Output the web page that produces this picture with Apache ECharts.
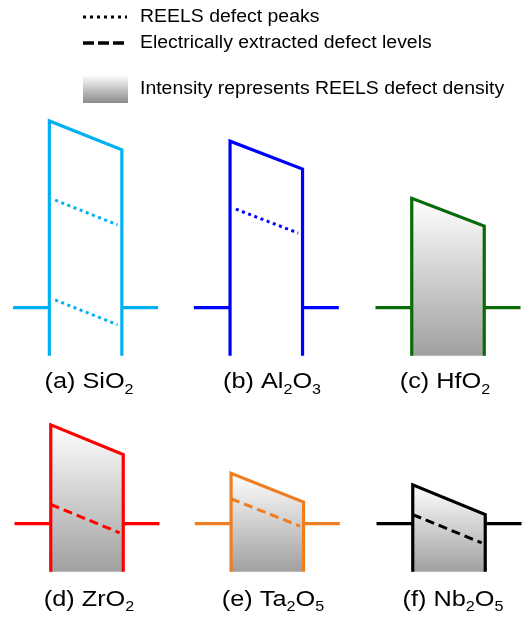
<!DOCTYPE html>
<html>
<head>
<meta charset="utf-8">
<script src="https://cdn.jsdelivr.net/npm/echarts@6/dist/echarts.min.js"></script>
<style>html,body{margin:0;padding:0;background:#fff}#c{width:524px;height:617px}</style>
</head>
<body>
<div id="c"></div>
<script>
// ---- data (energies in eV relative to the electrode Fermi level) ----
const oxides = ['SiO2', 'Al2O3', 'HfO2', 'ZrO2', 'Ta2O5', 'Nb2O5'];
const panelLabels = ['(a) SiO{s|2}', '(b) Al{s|2}O{s|3}', '(c) HfO{s|2}', '(d) ZrO{s|2}', '(e) Ta{s|2}O{s|5}', '(f) Nb{s|2}O{s|5}'];
const cbLeft = [3.89, 3.47, 2.28, 2.06, 1.05, 0.81];   // conduction band edge at left interface
const cbRight = [3.29, 2.89, 1.70, 1.44, 0.45, 0.19];  // conduction band edge at right interface
const reelsPeakDepth = [[1.60, 3.68], [1.37], [], [], [], []];   // below CB
const electricalDepth = [[], [], [], [1.66], [0.53], [0.62]];    // below CB
const densityShown = [false, false, true, true, true, true];
const legendLabels = ['REELS defect peaks', 'Electrically extracted defect levels', 'Intensity represents REELS defect density'];

// ---- styles / layout ----
const colors = ['#00B0F0', '#0000FF', '#086B08', '#FF0000', '#EF7D22', '#000000'];
const gridLeft = [13.1, 193.8, 375.5, 14.5, 194.8, 376.5];
const labelX = [89, 272, 445, 89, 273, 453];
const labelY = [382, 382, 382, 599.5, 599.5, 599.5];
const FONT = 'Liberation Sans, Arial, sans-serif';

const grids = [], xAxes = [], yAxes = [], series = [];
const gradFill = {type: 'linear', x: 0, y: 0, x2: 0, y2: 1,
  colorStops: [{offset: 0, color: '#ffffff'}, {offset: 1, color: '#a0a0a0'}]};

oxides.forEach((name, i) => {
  const row1 = i < 3;
  grids.push({left: gridLeft[i], top: row1 ? 115.7 : 379.7, width: 145, height: row1 ? 240 : 192, outerBoundsMode: 'none'});
  xAxes.push({type: 'value', gridIndex: i, min: -0.5, max: 1.5, show: false});
  yAxes.push({type: 'value', gridIndex: i, min: -1, max: row1 ? 4 : 3, show: false});
  const cb = x => cbLeft[i] + (cbRight[i] - cbLeft[i]) * x;
  const base = {type: 'line', xAxisIndex: i, yAxisIndex: i, symbol: 'none', silent: true, clip: false, animation: false};
  if (densityShown[i]) {
    series.push(Object.assign({}, base, {name: name + ' density', z: 1,
      data: [[0, cbLeft[i]], [1, cbRight[i]]],
      lineStyle: {width: 0}, areaStyle: {origin: 'start', color: gradFill, opacity: 1}}));
  }
  series.push(Object.assign({}, base, {name: name + ' band', z: 3,
    data: [[0, -1], [0, cbLeft[i]], [1, cbRight[i]], [1, -1]],
    lineStyle: {color: colors[i], width: 3.2, join: 'miter', cap: 'butt'}}));
  series.push(Object.assign({}, base, {name: name + ' left electrode', z: 3,
    data: [[-0.5, 0], [0, 0]], lineStyle: {color: colors[i], width: 3.2}}));
  series.push(Object.assign({}, base, {name: name + ' right electrode', z: 3,
    data: [[1, 0], [1.5, 0]], lineStyle: {color: colors[i], width: 3.2}}));
  reelsPeakDepth[i].forEach(d => {
    series.push(Object.assign({}, base, {name: name + ' REELS peak', z: 2,
      data: [[0.08, cb(0.08) - d], [0.94, cb(0.94) - d]],
      lineStyle: {color: colors[i], width: 3, type: [3, 3.6]}}));
  });
  electricalDepth[i].forEach(d => {
    series.push(Object.assign({}, base, {name: name + ' electrical level', z: 2,
      data: [[0, cb(0) - d], [0.95, cb(0.95) - d]],
      lineStyle: {color: colors[i], width: 3, type: [9, 5]}}));
  });
});

const graphics = [];
panelLabels.forEach((t, i) => {
  graphics.push({type: 'text', x: labelX[i], y: labelY[i], scaleX: 1.15, silent: true,
    style: {text: t, fill: '#000', fontSize: 22, fontFamily: FONT, lineHeight: 30,
      align: 'center', verticalAlign: 'middle',
      rich: {s: {fontSize: 14, fontFamily: FONT, fill: '#000', lineHeight: 14, verticalAlign: 'bottom'}}}});
});
// legend
graphics.push({type: 'line', silent: true, shape: {x1: 83, y1: 17, x2: 127, y2: 17},
  style: {stroke: '#000', lineWidth: 3, lineDash: [3, 4]}});
graphics.push({type: 'line', silent: true, shape: {x1: 83, y1: 43, x2: 127, y2: 43},
  style: {stroke: '#000', lineWidth: 3.5, lineDash: [11, 4]}});
graphics.push({type: 'rect', silent: true, shape: {x: 83, y: 75, width: 45, height: 28},
  style: {fill: new echarts.graphic.LinearGradient(0, 0, 0, 1, [{offset: 0, color: '#ffffff'}, {offset: 1, color: '#8a8a8a'}])}});
[17, 43, 89].forEach((y, k) => {
  graphics.push({type: 'text', x: 140, y: y, scaleX: 1.08, silent: true,
    style: {text: legendLabels[k], fill: '#000', font: '18px ' + FONT, align: 'left', verticalAlign: 'middle'}});
});

const chart = echarts.init(document.getElementById('c'), null, {renderer: 'canvas'});
chart.setOption({
  animation: false,
  backgroundColor: '#ffffff',
  grid: grids, xAxis: xAxes, yAxis: yAxes, series: series,
  graphic: graphics
});
</script>
</body>
</html>
